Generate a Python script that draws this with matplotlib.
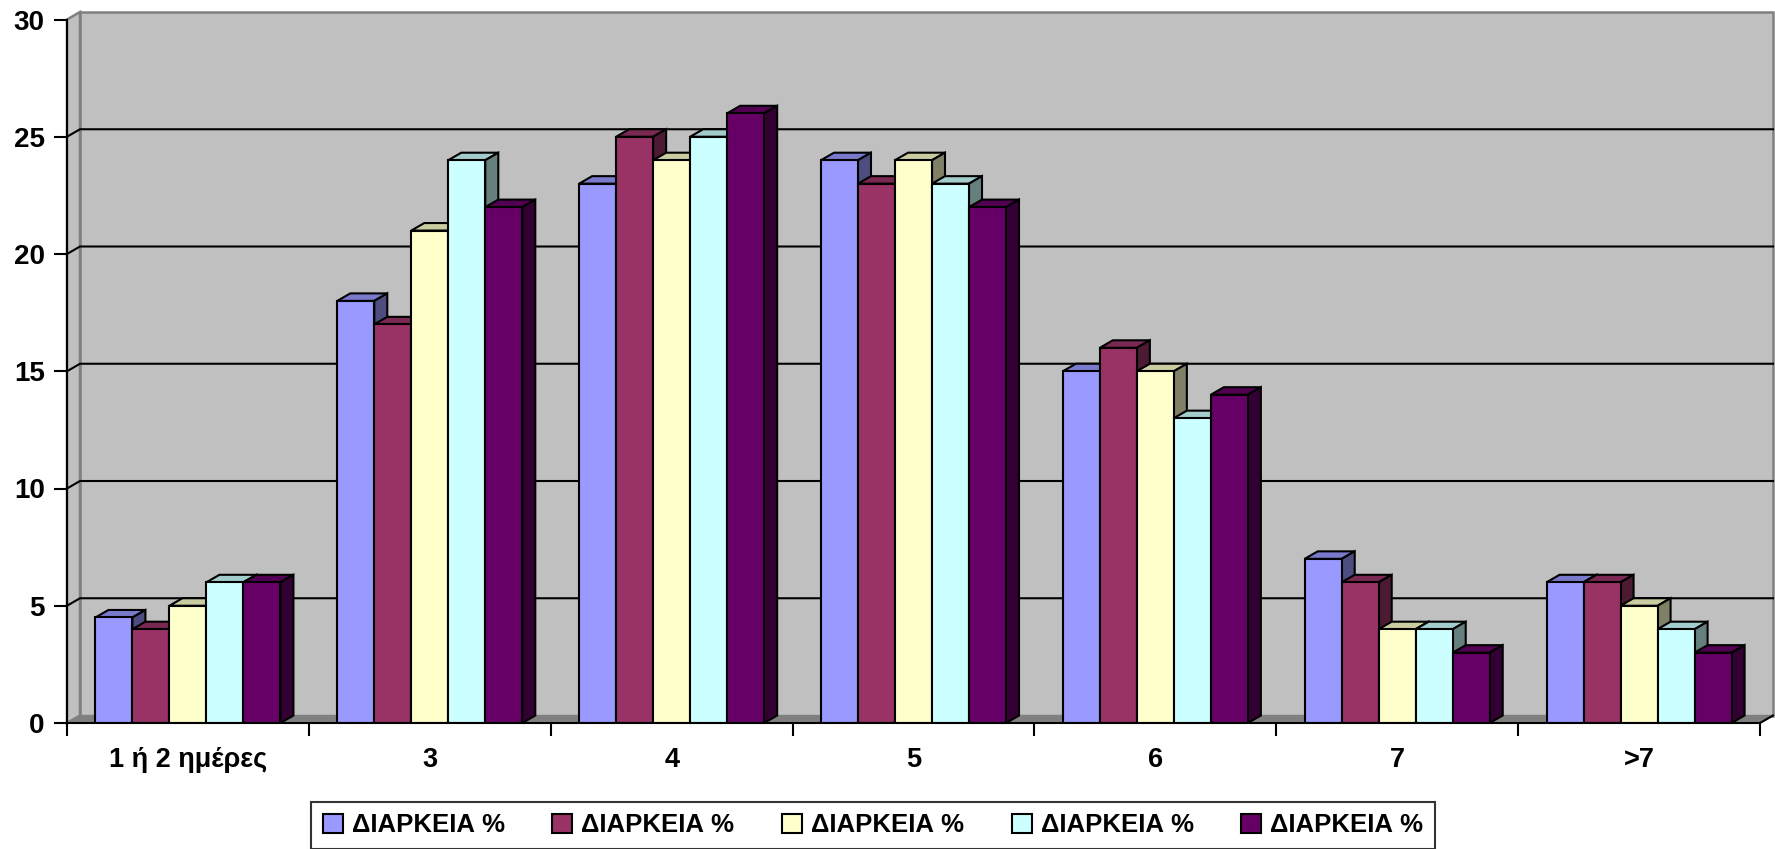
import numpy as np
import matplotlib.colors as mcolors
import matplotlib.pyplot as plt
from matplotlib.patches import Polygon, Patch

## data
categories = ['1 ή 2 ημέρες', '3', '4', '5', '6', '7', '>7']
series_names = ['ΔΙΑΡΚΕΙΑ %'] * 5
s1 = [4.5, 18, 23, 24, 15, 7, 6]
s2 = [4, 17, 25, 23, 16, 6, 6]
s3 = [5, 21, 24, 24, 15, 4, 5]
s4 = [6, 24, 25, 23, 13, 4, 4]
s5 = [6, 22, 26, 22, 14, 3, 3]
series = [s1, s2, s3, s4, s5]
yticks = [0, 5, 10, 15, 20, 25, 30]

front_colors = ['#9999FF', '#993366', '#FFFFCC', '#CCFFFF', '#660066']
wall_color = '#C0C0C0'
floor_color = '#808080'


def shade(c, f):
    r, g, b = mcolors.to_rgb(c)
    return (r * f, g * f, b * f)


plt.rcParams['font.family'] = ['Liberation Sans', 'DejaVu Sans']
plt.rcParams['font.weight'] = 'bold'

W, H = 1775, 849
fig = plt.figure(figsize=(W / 100, H / 100), dpi=100)
ax_l, ax_r, ax_b, ax_t = 67, 1760, 723, 19.5   # pixel box of the front plane
ax = fig.add_axes([ax_l / W, (H - ax_b) / H, (ax_r - ax_l) / W, (ax_b - ax_t) / H])

n_cat = len(categories)
ymax = yticks[-1]
ax.set_xlim(0, n_cat)
ax.set_ylim(0, ymax)
ax.patch.set_visible(False)

# depth of the 3d box, ~13 px right and ~7.5 px up
dx = 13 / (ax_r - ax_l) * n_cat
dy = 7.5 / (ax_b - ax_t) * ymax

# walls and floor
ax.add_patch(Polygon([(dx, dy), (n_cat + dx, dy), (n_cat + dx, ymax + dy), (dx, ymax + dy)],
                     closed=True, fc=wall_color, ec='#808080', lw=1.8, clip_on=False, zorder=0))
ax.add_patch(Polygon([(0, 0), (dx, dy), (dx, ymax + dy), (0, ymax)],
                     closed=True, fc=wall_color, ec='#808080', lw=1.8, clip_on=False, zorder=0))
ax.add_patch(Polygon([(0, 0), (n_cat, 0), (n_cat + dx, dy), (dx, dy)],
                     closed=True, fc=floor_color, ec=floor_color, lw=1, clip_on=False, zorder=0.5))
for v in yticks[1:-1]:
    ax.plot([0, dx, n_cat + dx], [v, v + dy, v + dy], color='black', lw=1.5, clip_on=False, zorder=1)
ax.plot([n_cat, n_cat + dx], [0, dy], color='black', lw=1.5, clip_on=False, zorder=1)

# bars: front face + top + right side
w = 0.153
offset = (1 - len(series) * w) / 2
x = np.arange(n_cat)
for k, vals in enumerate(series):
    c = front_colors[k]
    left = x + offset + k * w
    z = 3 + k
    for xl, h in zip(left, vals):
        top = Polygon([(xl, h), (xl + w, h), (xl + w + dx, h + dy), (xl + dx, h + dy)],
                      closed=True, fc=shade(c, 0.8), ec='black', lw=1.5, zorder=z)
        side = Polygon([(xl + w, 0), (xl + w + dx, dy), (xl + w + dx, h + dy), (xl + w, h)],
                       closed=True, fc=shade(c, 0.5), ec='black', lw=1.5, zorder=z)
        ax.add_patch(top)
        ax.add_patch(side)
    ax.bar(left, vals, width=w, align='edge', color=c, edgecolor='black', lw=1.5, zorder=z)

# axes
for s in ['top', 'right']:
    ax.spines[s].set_visible(False)
for s in ['left', 'bottom']:
    ax.spines[s].set_linewidth(1.5)
    ax.spines[s].set_zorder(10)

ax.set_yticks(yticks)
ax.tick_params(axis='y', length=9.5, width=1.5, pad=6.5, labelsize=20)
ax.set_xticks(np.arange(n_cat + 1))
ax.set_xticklabels([])
ax.set_xticks(x + 0.5, minor=True)
ax.set_xticklabels(categories, minor=True)
ax.tick_params(axis='x', which='major', length=9, width=1.5)
ax.tick_params(axis='x', which='minor', length=0, pad=17, labelsize=19.5)

# legend
handles = [Patch(facecolor=c, edgecolor='black', lw=1.5) for c in front_colors]
leg = fig.legend(handles, series_names, ncol=5, loc='center',
                 bbox_to_anchor=(873 / W, (H - 825.5) / H),
                 frameon=True, fancybox=False, prop={'size': 18.5, 'weight': 'bold'},
                 handlelength=0.78, handleheight=0.78, handletextpad=0.35,
                 columnspacing=1.85, borderpad=0.45)
leg.get_frame().set_edgecolor('black')
leg.get_frame().set_linewidth(1.5)

plt.savefig('out.png', dpi=100, facecolor='white')
